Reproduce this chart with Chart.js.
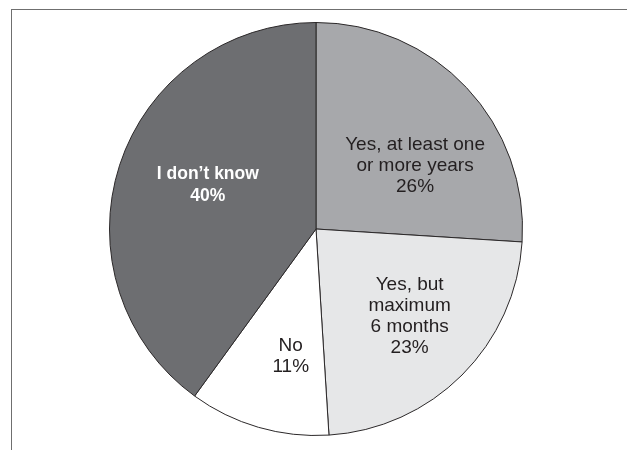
<!DOCTYPE html>
<html>
<head>
<meta charset="utf-8">
<script src="https://cdn.jsdelivr.net/npm/chart.js@4"></script>
<style>
    html, body { margin: 0; padding: 0; background: #fff; overflow: hidden; }
    #wrap { position: relative; width: 627px; height: 450px; overflow: hidden; }
    #frame {
        position: absolute; left: 11px; top: 9px; right: 0; bottom: 0;
        border-left: 1.5px solid #6f6f6f; border-top: 1.5px solid #6f6f6f;
    }
    canvas { position: absolute; left: 0; top: 0; }
</style>
</head>
<body>
<div id="wrap">
    <div id="frame"></div>
    <canvas id="pie" width="627" height="450"></canvas>
</div>
<script>
const categories = ['Yes, at least one or more years', 'Yes, but maximum 6 months', 'No', 'I don\u2019t know'];
const categoryLines = [
    ['Yes, at least one', 'or more years'],
    ['Yes, but', 'maximum', '6 months'],
    ['No'],
    ['I don\u2019t know']
];
const values = [26, 23, 11, 40];

const sliceColors = ['#a7a8ab', '#e6e7e8', '#ffffff', '#6d6e71'];
const textColors = ['#231f20', '#231f20', '#231f20', '#ffffff'];
const textBold = [false, false, false, true];
// radius fraction and angular shift (degrees, clockwise) for each label
const labelPlace = [[0.57, 10.5], [0.62, -2], [0.63, -5], [0.565, 4]];

const sliceLabels = {
    id: 'sliceLabels',
    afterDatasetsDraw(chart) {
        const ctx = chart.ctx;
        const arcs = chart.getDatasetMeta(0).data;
        ctx.save();
        ctx.textAlign = 'center';
        ctx.textBaseline = 'middle';
        arcs.forEach((arc, i) => {
            const p = arc.getProps(['x', 'y', 'startAngle', 'endAngle', 'outerRadius'], true);
            const mid = (p.startAngle + p.endAngle) / 2 + labelPlace[i][1] * Math.PI / 180;
            const r = p.outerRadius * labelPlace[i][0];
            const cx = p.x + Math.cos(mid) * r;
            const cy = p.y + Math.sin(mid) * r;
            const lines = categoryLines[i].concat([values[i] + '%']);
            const lh = textBold[i] ? 22 : 21;
            ctx.fillStyle = textColors[i];
            ctx.font = (textBold[i] ? 'bold 17.5px' : '19px') + ' "Liberation Sans", Arial, sans-serif';
            lines.forEach((t, k) => {
                ctx.fillText(t, cx, cy + (k - (lines.length - 1) / 2) * lh);
            });
        });
        ctx.restore();
    }
};

new Chart(document.getElementById('pie'), {
    type: 'pie',
    data: {
        labels: categories,
        datasets: [{
            data: values,
            backgroundColor: sliceColors,
            borderColor: '#2b2829',
            borderWidth: 1,
            hoverOffset: 0,
            offset: 0
        }]
    },
    options: {
        responsive: false,
        animation: false,
        layout: { padding: { left: 5, right: 0, top: 22, bottom: 14 } },
        plugins: {
            legend: { display: false },
            tooltip: { enabled: false }
        }
    },
    plugins: [sliceLabels]
});
</script>
</body>
</html>
